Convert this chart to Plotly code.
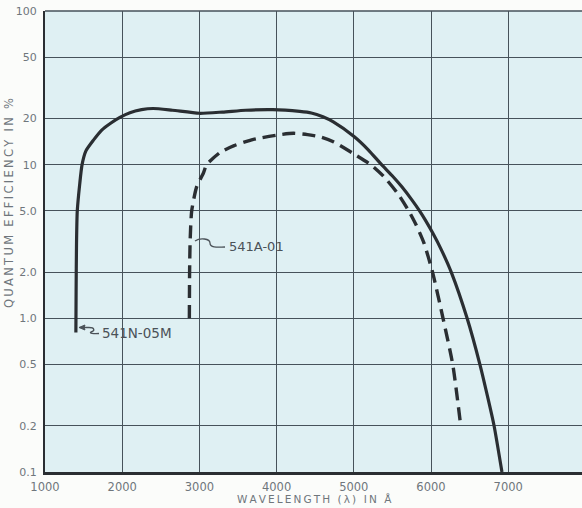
import plotly.graph_objects as go

# ---- data ----
solid_name = "541N-05M"
solid_x = [1400, 1403, 1408, 1418, 1450, 1480, 1530, 1630, 1735, 1850, 1970, 2100, 2250, 2400,
           2650, 3000, 3300, 3600, 3950, 4300, 4450, 4600, 4735, 5007, 5187, 5360, 5495, 5620,
           5752, 5852, 5925, 6021, 6136, 6262, 6468, 6634, 6739, 6817, 6919]
solid_y = [0.81, 1.5, 3.0, 5.0, 7.5, 10.0, 12.3, 14.5, 16.8, 18.6, 20.3, 21.8, 22.8, 23.2,
           22.6, 21.6, 22.0, 22.6, 22.8, 22.2, 21.7, 20.5, 19.0, 15.2, 12.5, 10.0, 8.5, 7.2,
           5.9, 5.0, 4.37, 3.6, 2.78, 2.0, 1.0, 0.5, 0.3, 0.2, 0.1]

dash_name = "541A-01"
dash_x = [2870, 2873, 2880, 2900, 2965, 3051, 3094, 3267, 3450, 3700, 4050, 4220, 4400,
          4580, 4735, 5007, 5220, 5386, 5568, 5712, 5808, 5908, 6020, 6156, 6282, 6385]
dash_y = [1.0, 2.0, 3.2, 5.0, 7.2, 8.8, 10.0, 12.0, 13.3, 14.6, 15.7, 16.0, 15.7,
          15.1, 14.1, 11.7, 10.0, 8.4, 6.5, 5.0, 4.05, 3.1, 2.0, 1.0, 0.5, 0.2]

y_tickvals = [0.1, 0.2, 0.5, 1, 2, 5, 10, 20, 50, 100]
y_ticktext = ["0.1", "0.2", "0.5", "1.0", "2.0", "5.0", "10", "20", "50", "100"]
x_tickvals = [1000, 2000, 3000, 4000, 5000, 6000, 7000]
x_ticktext = ["1000", "2000", "3000", "4000", "5000", "6000", "7000"]

x_title = "WAVELENGTH (λ) IN Å"
y_title = "QUANTUM EFFICIENCY IN %"

# ---- layout constants ----
W, H = 582, 508
ML, MR, MT, MB = 45, 0, 11, 36
PW, PH = W - ML - MR, H - MT - MB
INK = "#2a2e32"
GRID = "#46525a"
TXT = "#6f767c"
LBL = "#4b5258"
FONT = "DejaVu Sans"
THIN = "\u2009"


def P(x, y):
    return f"{(x - ML) / PW:.5f},{(H - MB - y) / PH:.5f}"


def spaced(s):
    return THIN.join(s)


fig = go.Figure()
fig.add_trace(go.Scatter(x=solid_x, y=solid_y, mode="lines", name=solid_name,
                         line=dict(color=INK, width=3.2, shape="spline", smoothing=0.6)))
fig.add_trace(go.Scatter(x=dash_x, y=dash_y, mode="lines", name=dash_name,
                         line=dict(color=INK, width=3.4, dash="13px,7px", shape="spline", smoothing=0.6)))

shapes = [
    dict(type="line", xref="paper", yref="paper", x0=0, x1=1, y0=1, y1=1,
         line=dict(color=GRID, width=1.6)),
    # leader for 541A-01
    dict(type="path", xref="paper", yref="paper",
         path=f"M {P(195,241)} C {P(200,237.5)} {P(210,238.5)} {P(210,243)} C {P(210,247.5)} {P(216,247.5)} {P(225,247)}",
         line=dict(color=LBL, width=1.3)),
    # leader for 541N-05M
    dict(type="path", xref="paper", yref="paper",
         path=f"M {P(82,327.5)} L {P(89,327.5)} C {P(95,327.5)} {P(95,331)} {P(91,332)} C {P(89,333)} {P(93,334)} {P(99,333.5)}",
         line=dict(color=LBL, width=1.3)),
    dict(type="path", xref="paper", yref="paper",
         path=f"M {P(79,327.5)} L {P(85,325)} L {P(84,327.5)} L {P(85,330)} Z",
         fillcolor=LBL, line=dict(color=LBL, width=1)),
]

annotations = [
    dict(text=dash_name, xref="paper", yref="paper", x=(227 - ML) / PW, y=(H - MB - 246) / PH,
         xanchor="left", yanchor="middle", showarrow=False,
         font=dict(family=FONT, size=13, color=LBL)),
    dict(text=solid_name, xref="paper", yref="paper", x=(100 - ML) / PW, y=(H - MB - 333) / PH,
         xanchor="left", yanchor="middle", showarrow=False,
         font=dict(family=FONT, size=13.5, color=LBL)),
    dict(text=spaced(x_title), xref="paper", yref="paper", x=(314 - ML) / PW,
         y=(H - MB - 499) / PH, xanchor="center", yanchor="middle", showarrow=False,
         font=dict(family=FONT, size=10.5, color=TXT)),
    dict(text=spaced(y_title), xref="paper", yref="paper", x=(9 - ML) / PW,
         y=(H - MB - 203) / PH, xanchor="center", yanchor="middle", showarrow=False,
         textangle=-90, font=dict(family=FONT, size=11.5, color=TXT)),
]

fig.update_layout(
    width=W, height=H,
    margin=dict(l=ML, r=MR, t=MT, b=MB, pad=0),
    paper_bgcolor="#fbfcfa",
    plot_bgcolor="#dff0f3",
    showlegend=False,
    shapes=shapes,
    annotations=annotations,
    font=dict(family=FONT, color=TXT),
)
fig.update_xaxes(range=[1000, 1000 + PW / 77.2 * 1000], tickvals=x_tickvals, ticktext=x_ticktext,
                 showgrid=True, gridcolor=GRID, gridwidth=1.3, zeroline=False,
                 showline=True, linecolor=INK, linewidth=2.5, ticks="", ticklabelstandoff=2,
                 tickfont=dict(family=FONT, size=11.5, color=TXT))
fig.update_yaxes(type="log", range=[-1, 2], tickvals=y_tickvals, ticktext=y_ticktext,
                 showgrid=True, gridcolor=GRID, gridwidth=1.3, zeroline=False,
                 showline=True, linecolor=INK, linewidth=2.2, ticks="", ticklabelstandoff=4,
                 tickfont=dict(family=FONT, size=11, color=TXT))

fig.write_html("out.html")
